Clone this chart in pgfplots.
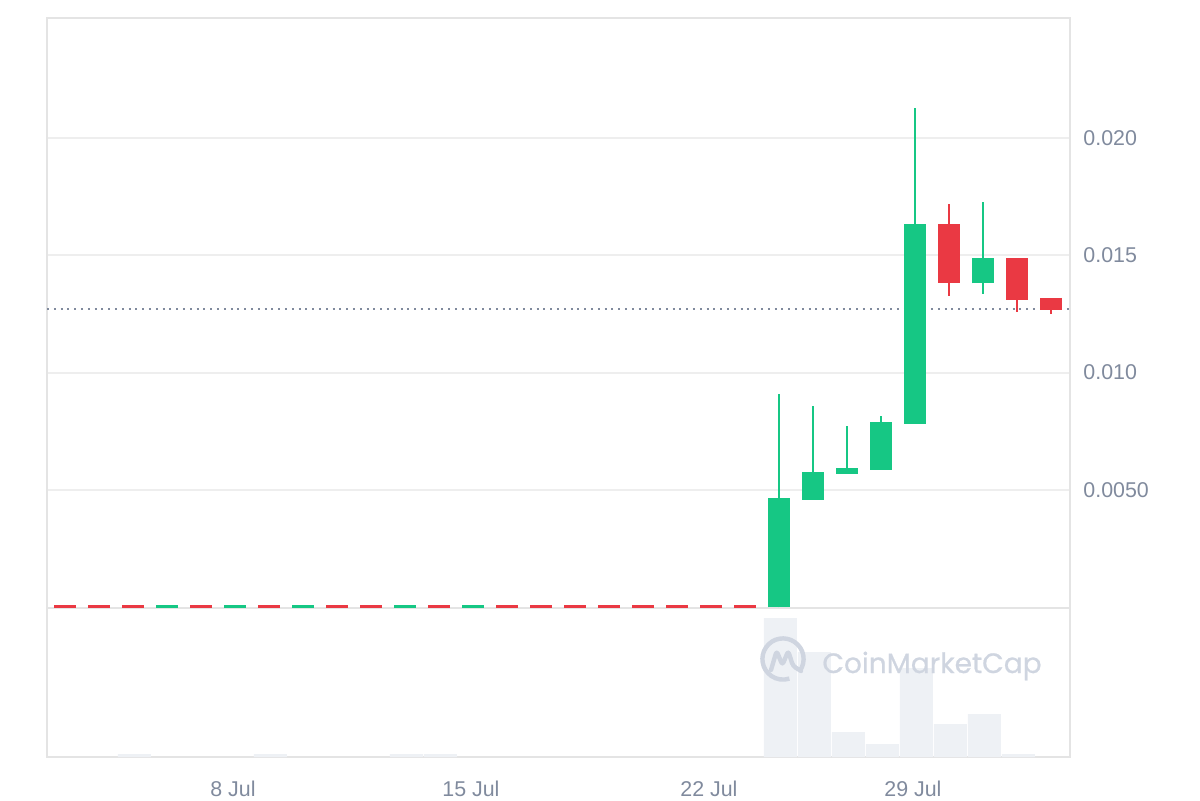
\documentclass[border=0pt]{standalone}
\usepackage{fontspec}
\setmainfont{Liberation Sans}
\newfontfamily\wmfont{Poppins}[FakeBold=0.7]
\usepackage{pgfplots}
\pgfplotsset{compat=1.18}
\definecolor{cmcgreen}{RGB}{22,199,132}
\definecolor{cmcred}{RGB}{234,57,67}
\definecolor{bordercol}{RGB}{228,228,228}
\definecolor{gridcol}{RGB}{238,238,238}
\definecolor{tickcol}{RGB}{128,138,157}
\definecolor{volcol}{RGB}{238,241,245}
\definecolor{wmcol}{RGB}{207,213,224}
\begin{document}
\begin{tikzpicture}
\path[use as bounding box] (0,0) rectangle (600pt,400pt);
\pgfplotsset{
  cmcbase/.style={
    scale only axis, width=511.5pt,
    xmin=-0.5294, xmax=29.559,
    axis line style={bordercol, line width=1pt},
    major tick length=0pt,
    tick style={draw=none},
    tick label style={font=\fontsize{10.7}{12}\selectfont, text=tickcol},
    unbounded coords=jump,
  }
}
% ---------- volume panel ----------
\begin{axis}[cmcbase, at={(23.5pt,21.5pt)}, anchor=south west, height=74.5pt,
  ymin=0, ymax=149, ytick=\empty,
  xtick={4.94,11.94,18.94,24.94}, xticklabels={8 Jul,15 Jul,22 Jul,29 Jul},
  xticklabel style={anchor=north, inner sep=0pt, yshift=-11.75pt},
]
\addplot[ybar, bar width=16.5pt, bar shift=0.7pt, fill=volcol, draw=none] table {
x v
2 3
6 3
10 3
11 3
21 139
22 105
23 25
24 13
25 89
26 33
27 43
28 3
};
\node[anchor=base west, text=wmcol, font=\wmfont\fontsize{14}{16}\selectfont, inner sep=0pt] at (axis cs:22.265,84) {CoinMarketCap};
\begin{scope}[shift={(axis cs:21.118,98)}]
\draw[wmcol, line width=2.2pt] (-35:10.3pt) arc[start angle=-35, end angle=288, radius=10.3pt];
\draw[wmcol, line width=2.2pt, line join=round, line cap=round, rounded corners=1.5pt]
  (-6pt,-5.5pt) -- (-3.2pt,4pt) -- (-0.3pt,-3pt) -- (2.6pt,4pt) -- (5pt,-3.5pt) -- (9pt,-6pt);
\end{scope}
\end{axis}
% ---------- price panel ----------
\begin{axis}[cmcbase, at={(23.5pt,96pt)}, anchor=south west, height=295pt,
  ymin=-0.00003, ymax=0.025109,
  ytick={0.005,0.01,0.015,0.02}, yticklabels={0.0050,0.010,0.015,0.020},
  scaled y ticks=false,
  yticklabel pos=right,
  yticklabel style={anchor=west, inner sep=0pt, xshift=6.5pt},
  xtick=\empty,
  ymajorgrids, grid style={gridcol, line width=1pt},
]
% current price line
\addplot[tickcol, line width=1pt, dash pattern=on 1pt off 2.4pt] coordinates {(-0.53,0.01271) (29.56,0.01271)};
% flat candles (open = close)
\addplot[only marks, mark=-, mark size=5.5pt, mark options={cmcred, line width=1.1pt}] table {
x y
0 0.00003
1 0.00003
2 0.00003
4 0.00003
6 0.00003
8 0.00003
9 0.00003
11 0.00003
13 0.00003
14 0.00003
15 0.00003
16 0.00003
17 0.00003
18 0.00003
19 0.00003
20 0.00003
};
\addplot[only marks, mark=-, mark size=5.5pt, mark options={cmcgreen, line width=1.1pt}] table {
x y
3 0.00003
5 0.00003
7 0.00003
10 0.00003
12 0.00003
};
% wicks (low to high)
\addplot[cmcgreen, line width=1pt] table {
x y
21 0
21 0.00909
nan nan
22 0.00458
22 0.00858
nan nan
23 0.00569
23 0.00772
nan nan
24 0.00586
24 0.00815
nan nan
25 0.00782
25 0.02128
nan nan
27 0.01336
27 0.01727
};
\addplot[cmcred, line width=1pt] table {
x y
26 0.01328
26 0.01718
nan nan
28 0.01259
28 0.01488
nan nan
29 0.01251
29 0.01318
};
% bodies (open to close)
\addplot[cmcgreen, line width=11pt] table {
x y
21 0
21 0.00466
nan nan
22 0.00458
22 0.00576
nan nan
23 0.00569
23 0.00594
nan nan
24 0.00586
24 0.00790
nan nan
25 0.00782
25 0.01633
nan nan
27 0.01380
27 0.01488
};
\addplot[cmcred, line width=11pt] table {
x y
26 0.01633
26 0.01380
nan nan
28 0.01488
28 0.01311
nan nan
29 0.01318
29 0.01268
};
\end{axis}
\end{tikzpicture}
\end{document}
